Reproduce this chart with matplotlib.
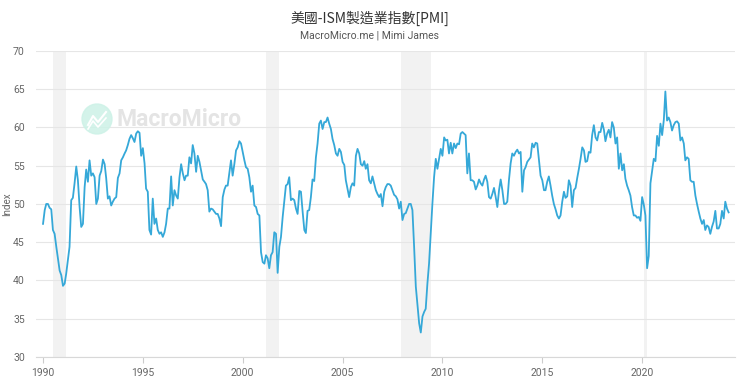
import matplotlib
matplotlib.use('Agg')
import matplotlib.pyplot as plt
import matplotlib.dates as mdates
from matplotlib.patches import Ellipse
import numpy as np
import pandas as pd

plt.rcParams['font.family'] = ['Roboto', 'Noto Sans CJK TC', 'DejaVu Sans']

# ISM manufacturing PMI, monthly (Jan 1990 - May 2024)
pmi_1990s = [
    47.4, 49.2, 50.0, 50.0, 49.5, 49.3, 46.6, 46.1, 44.4, 42.9, 41.3, 40.7,
    39.3, 39.6, 40.9, 42.7, 44.4, 50.5, 50.8, 52.7, 54.9, 53.1, 49.6, 47.0,
    47.4, 52.2, 54.5, 52.9, 55.7, 53.7, 54.0, 53.5, 50.0, 50.7, 53.7, 54.3,
    55.8, 55.2, 53.4, 50.7, 51.0, 49.8, 50.3, 50.7, 50.9, 53.4, 54.0, 55.7,
    56.1, 56.6, 57.0, 57.7, 58.5, 59.0, 58.6, 58.1, 59.2, 59.5, 59.3, 56.3,
    57.3, 55.3, 52.0, 51.6, 46.6, 46.0, 50.7, 47.4, 48.1, 46.6, 46.1, 46.3,
    45.7, 46.3, 47.4, 49.4, 49.4, 53.6, 49.8, 51.8, 51.1, 50.7, 53.5, 55.2,
    54.0, 53.1, 53.7, 53.7, 56.1, 55.3, 57.7, 56.6, 54.2, 56.3, 55.5, 54.4,
    53.2, 52.9, 52.6, 51.8, 49.0, 49.4, 49.3, 49.0, 48.7, 48.7, 48.1, 47.1,
    50.9, 51.9, 52.4, 52.4, 54.0, 55.7, 53.7, 55.2, 57.0, 57.4, 58.2, 57.9,
]
pmi_2000s = [
    56.8, 55.7, 54.8, 54.6, 53.5, 51.6, 52.4, 49.8, 49.6, 48.7, 48.5, 43.7,
    42.4, 42.2, 43.3, 42.9, 41.6, 43.3, 43.7, 46.3, 46.1, 41.0, 44.4, 45.7,
    48.3, 50.5, 52.4, 52.6, 53.5, 50.5, 50.7, 50.5, 49.4, 48.7, 51.7, 51.6,
    49.0, 46.6, 46.2, 49.1, 49.2, 50.9, 53.2, 53.0, 56.1, 57.9, 60.5, 60.9,
    59.8, 60.7, 60.7, 61.3, 60.5, 59.8, 58.5, 57.7, 56.6, 56.3, 57.2, 56.8,
    55.5, 55.1, 53.1, 52.0, 50.9, 52.2, 52.7, 52.4, 56.3, 57.2, 56.6, 55.2,
    55.0, 55.6, 54.6, 55.2, 53.1, 52.7, 53.6, 52.7, 51.8, 51.3, 50.9, 51.3,
    49.7, 51.6, 52.2, 52.6, 52.6, 52.4, 51.8, 51.2, 51.0, 50.6, 49.4, 50.3,
    47.9, 48.7, 48.8, 49.4, 50.0, 50.0, 49.2, 44.4, 39.2, 36.8, 34.4, 33.2,
    35.3, 35.9, 36.3, 39.6, 42.2, 46.1, 50.0, 53.5, 55.9, 54.6, 55.9, 57.2,
]
pmi_2010s = [
    56.3, 58.7, 58.3, 58.4, 56.6, 58.0, 56.6, 57.9, 57.3, 57.9, 57.8, 59.2,
    59.4, 59.2, 59.0, 54.0, 56.6, 53.1, 53.1, 52.9, 51.9, 52.4, 53.2, 52.7,
    52.4, 53.2, 53.7, 52.9, 50.9, 50.7, 51.3, 52.1, 50.9, 49.6, 51.8, 53.2,
    51.8, 50.0, 50.0, 50.3, 53.1, 55.3, 56.6, 56.3, 56.8, 57.1, 56.6, 56.8,
    51.6, 54.4, 54.8, 55.5, 55.8, 56.1, 57.9, 57.4, 58.0, 57.9, 55.7, 53.7,
    53.1, 51.8, 51.8, 52.9, 53.6, 52.4, 51.1, 50.0, 49.3, 48.5, 48.1, 48.5,
    50.3, 51.6, 50.8, 51.0, 53.1, 52.4, 49.6, 51.8, 52.1, 53.4, 54.6, 55.9,
    57.4, 57.0, 55.5, 55.6, 56.8, 56.7, 59.0, 60.3, 58.7, 58.3, 59.4, 59.4,
    60.6, 59.7, 58.2, 59.2, 59.7, 58.7, 60.7, 60.0, 57.9, 58.7, 54.6, 56.6,
    54.4, 55.2, 53.3, 52.4, 51.8, 51.1, 49.6, 48.5, 48.5, 48.2, 48.3, 47.8,
]
pmi_2020s = [
    50.9, 49.9, 48.5, 41.6, 43.2, 52.7, 54.3, 55.9, 55.6, 58.9, 57.6, 60.5,
    59.0, 61.0, 64.7, 60.9, 61.3, 60.7, 59.6, 60.3, 60.7, 60.8, 60.5, 58.3,
    58.7, 57.9, 55.7, 56.1, 55.9, 53.1, 52.9, 52.9, 51.1, 50.0, 49.0, 48.1,
    47.4, 47.9, 46.6, 47.2, 47.0, 46.1, 47.0, 47.7, 49.1, 46.8, 46.8, 47.4,
    49.1, 48.1, 50.3, 49.4, 48.9,
]

# US recessions shaded on the chart
rec_start = ['1990-07-01', '2001-03-01', '2007-12-01', '2020-02-01']
rec_end = ['1991-03-01', '2001-11-01', '2009-06-01', '2020-04-01']

values = pmi_1990s + pmi_2000s + pmi_2010s + pmi_2020s
dates = pd.date_range('1990-01-01', periods=len(values), freq='MS')

fig = plt.figure(figsize=(7.4, 3.85), dpi=100)
ax = fig.add_axes([0.0486, 0.0727, 0.9446, 0.795])

for s, e in zip(rec_start, rec_end):
    ax.axvspan(pd.Timestamp(s), pd.Timestamp(e), color='#f2f2f2', lw=0, zorder=0)

ax.plot(dates, values, color='#35a8d8', lw=1.3, zorder=3)

ax.set_ylim(30, 70)
ax.set_yticks(np.arange(30, 71, 5))
ax.set_xlim(pd.Timestamp('1989-08-25'), pd.Timestamp('2024-08-25'))
ax.xaxis.set_major_locator(mdates.YearLocator(5))
ax.xaxis.set_major_formatter(mdates.DateFormatter('%Y'))

ax.grid(axis='y', color='#e6e6e6', lw=0.8, zorder=1)
for side in ['top', 'right', 'left']:
    ax.spines[side].set_visible(False)
ax.spines['bottom'].set_color('#d8d8d8')
ax.spines['bottom'].set_linewidth(0.8)
ax.tick_params(axis='y', length=0, labelsize=7.5, labelcolor='#666666', pad=8)
ax.tick_params(axis='x', length=4, color='#cccccc', labelsize=7.5,
               labelcolor='#666666', pad=4)
fig.text(7 / 740, 1 - 204 / 385, 'Index', rotation=90, ha='center', va='center',
         fontsize=7, color='#666666')

fig.text(0.5, 0.953, '美國-ISM製造業指數[PMI]', ha='center', va='center',
         fontsize=10, color='#333333', family=['Noto Sans CJK TC', 'DejaVu Sans'])
fig.text(0.5, 0.907, 'MacroMicro.me | Mimi James', ha='center', va='center',
         fontsize=7.5, color='#555555')

# watermark
logo = Ellipse((97 / 740, 1 - 119 / 385), 30 / 740, 30 / 385,
               transform=fig.transFigure, color='#cdf2e7', alpha=0.85, zorder=2)
ax.add_artist(logo)
ax.plot([88 / 740, 93 / 740, 98 / 740, 106 / 740],
        [1 - 125 / 385, 1 - 116 / 385, 1 - 122 / 385, 1 - 112 / 385],
        transform=fig.transFigure, color='white', lw=1.5, zorder=2)
ax.plot([88 / 740, 93 / 740, 98 / 740, 106 / 740],
        [1 - 129 / 385, 1 - 121 / 385, 1 - 127 / 385, 1 - 118 / 385],
        transform=fig.transFigure, color='white', lw=1.2, zorder=2)
fig.text(117 / 740, 1 - 119 / 385, 'MacroMicro', ha='left', va='center',
         fontsize=16.5, color='#e4e4e4', fontweight='bold', zorder=2)

fig.savefig('out.png', dpi=100)
